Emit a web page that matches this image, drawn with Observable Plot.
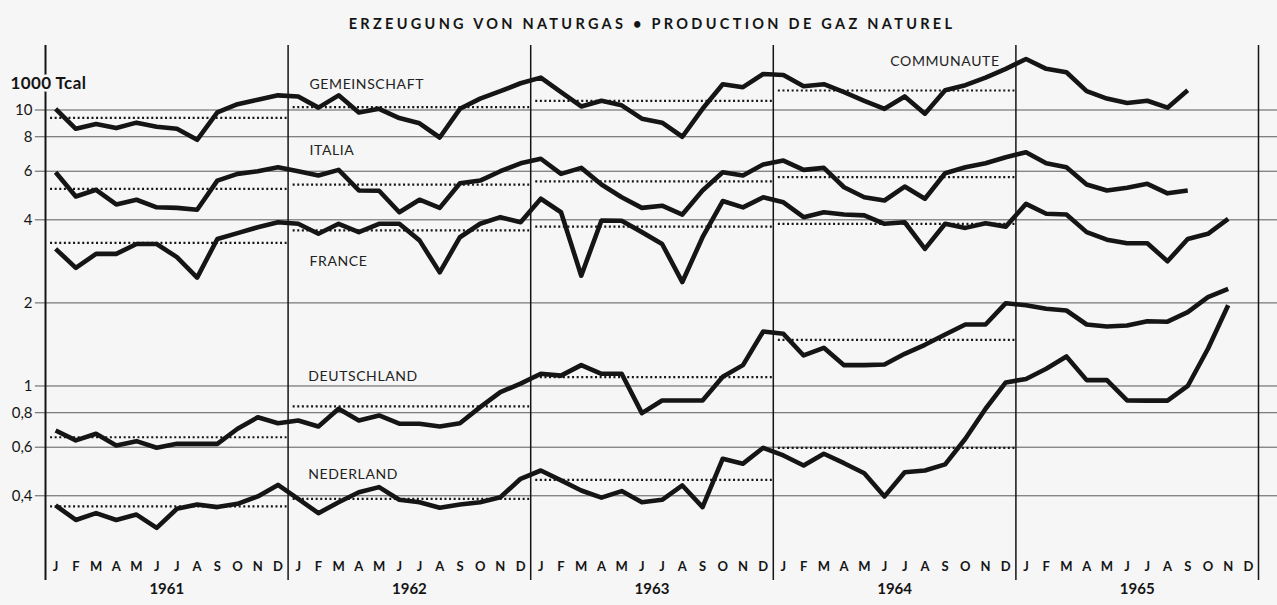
<!DOCTYPE html>
<html><head><meta charset="utf-8">
<script src="https://cdn.jsdelivr.net/npm/d3@7"></script>
<script src="https://cdn.jsdelivr.net/npm/@observablehq/plot@0.6"></script>
<style>
html,body{margin:0;padding:0;background:#f6f6f6;}
#chart{width:1277px;height:605px;}
</style></head><body><div id="chart"></div>
<script>
const title = "ERZEUGUNG VON NATURGAS • PRODUCTION DE GAZ NATUREL";
const unitLabel = "1000 Tcal";
const months = ["J","F","M","A","M","J","J","A","S","O","N","D"];
const years = [1961, 1962, 1963, 1964, 1965];
const yTicks = [0.4, 0.6, 0.8, 1, 2, 4, 6, 8, 10];

// monthly production, 1000 Tcal, from Jan 1961
const gemeinschaft = [
  10.1, 8.55, 8.9, 8.6, 9.0, 8.7, 8.55, 7.8, 9.8, 10.5, 10.9, 11.3,
  11.2, 10.2, 11.3, 9.8, 10.1, 9.35, 8.95, 7.95, 10.1, 11.0, 11.7, 12.5,
  13.1, 11.6, 10.3, 10.8, 10.4, 9.3, 9.0, 8.0, 10.1, 12.4, 12.1, 13.5,
  13.4, 12.2, 12.4, 11.6, 10.8, 10.1, 11.2, 9.7, 11.8, 12.3, 13.1, 14.1,
  15.3, 14.1, 13.7, 11.7, 11.0, 10.6, 10.8, 10.2, 11.8
];
const italia = [
  5.95, 4.86, 5.14, 4.55, 4.73, 4.44, 4.42, 4.35, 5.55, 5.87, 6.0, 6.2,
  6.0, 5.79, 6.07, 5.11, 5.1, 4.26, 4.73, 4.42, 5.43, 5.55, 6.0, 6.41,
  6.66, 5.87, 6.17, 5.37, 4.83, 4.42, 4.5, 4.18, 5.11, 5.95, 5.79, 6.35,
  6.56, 6.07, 6.17, 5.25, 4.83, 4.7, 5.28, 4.77, 5.9, 6.2, 6.41, 6.74,
  7.03, 6.41, 6.2, 5.37, 5.11, 5.23, 5.4, 4.99, 5.11
];
const france = [
  3.14, 2.68, 3.01, 3.01, 3.27, 3.27, 2.93, 2.47, 3.41, 3.58, 3.76, 3.92,
  3.87, 3.56, 3.87, 3.61, 3.87, 3.87, 3.37, 2.58, 3.46, 3.87, 4.09, 3.92,
  4.77, 4.26, 2.51, 3.98, 3.97, 3.61, 3.27, 2.38, 3.46, 4.68, 4.44, 4.83,
  4.63, 4.09, 4.26, 4.18, 4.15, 3.87, 3.92, 3.14, 3.87, 3.74, 3.89, 3.78,
  4.57, 4.21, 4.18, 3.61, 3.39, 3.29, 3.29, 2.83, 3.41, 3.56, 4.03
];
const deutschland = [
  0.69, 0.635, 0.671, 0.609, 0.631, 0.597, 0.617, 0.617, 0.617, 0.70, 0.77, 0.733,
  0.75, 0.713, 0.827, 0.75, 0.782, 0.73, 0.73, 0.713, 0.733, 0.838, 0.95, 1.02,
  1.107, 1.09, 1.19, 1.107, 1.107, 0.797, 0.886, 0.886, 0.886, 1.08, 1.19, 1.576,
  1.545, 1.29, 1.375, 1.19, 1.19, 1.197, 1.308, 1.41, 1.537, 1.67, 1.67, 1.995,
  1.96, 1.905, 1.877, 1.67, 1.643, 1.656, 1.717, 1.71, 1.851, 2.1, 2.25
];
const nederland = [
  0.369, 0.327, 0.346, 0.327, 0.342, 0.306, 0.359, 0.372, 0.364, 0.374, 0.398, 0.438,
  0.39, 0.346, 0.379, 0.412, 0.43, 0.387, 0.379, 0.362, 0.372, 0.379, 0.395, 0.461,
  0.494, 0.455, 0.418, 0.394, 0.416, 0.379, 0.387, 0.436, 0.364, 0.545, 0.523, 0.597,
  0.56, 0.515, 0.568, 0.525, 0.483, 0.398, 0.487, 0.494, 0.52, 0.644, 0.827, 1.03,
  1.06, 1.154, 1.279, 1.05, 1.05, 0.886, 0.885, 0.885, 1.0, 1.364, 1.96
];

// yearly reference levels (dotted), 1961-1964
const avgGemeinschaft = [9.37, 10.24, 10.8, 11.77];
const avgItalia = [5.18, 5.37, 5.51, 5.71];
const avgFrance = [3.30, 3.66, 3.78, 3.87];
const avgDeutschland = [0.652, 0.843, 1.076, 1.47];
const avgNederland = [0.366, 0.39, 0.457, 0.597];

const series = [
  {key: "gemeinschaft", values: gemeinschaft, avg: avgGemeinschaft},
  {key: "italia", values: italia, avg: avgItalia},
  {key: "france", values: france, avg: avgFrance},
  {key: "deutschland", values: deutschland, avg: avgDeutschland},
  {key: "nederland", values: nederland, avg: avgNederland}
];

// series name annotations (month index, value at label centre)
const seriesLabels = [
  {text: "GEMEINSCHAFT", t: 13.06, v: 12.37},
  {text: "ITALIA", t: 13.06, v: 7.16},
  {text: "FRANCE", t: 13.06, v: 2.826},
  {text: "DEUTSCHLAND", t: 13.0, v: 1.082},
  {text: "NEDERLAND", t: 13.0, v: 0.478},
  {text: "COMMUNAUTE", t: 41.79, v: 14.99}
];

const rows = series.flatMap(s => s.values.map((v, i) => ({series: s.key, t: i + 0.5, v})));
const avgRows = series.flatMap(s => s.avg.map((v, k) => ({series: s.key, x1: k * 12 + 0.25, x2: k * 12 + 11.95, v})));
const monthRows = years.flatMap((y, k) => months.map((m, j) => ({t: k * 12 + j + 0.5, m})));
const yearRows = years.map((y, k) => ({t: k * 12 + 6, y: String(y)}));
const separators = years.map((y, k) => k * 12).concat([years.length * 12]);

const ink = "#151515";
const chart = Plot.plot({
  width: 1277, height: 605,
  marginTop: 45, marginBottom: 25, marginLeft: 45, marginRight: 19,
  style: {background: "#f6f6f6", fontFamily: "Lato, 'Open Sans', sans-serif", color: ink},
  x: {domain: [0, 60], axis: null},
  y: {type: "log", domain: [0.1973, 17.13], axis: null},
  marks: [
    Plot.ruleY(yTicks, {y: d => d, x1: -0.5, x2: 60.95, stroke: "#5a5a5a", strokeWidth: 1}),
    Plot.axisY(yTicks, {anchor: "left", tickSize: 0, tickPadding: 13, fontSize: 15, label: null,
      tickFormat: d => String(d).replace(".", ",")}),
    Plot.ruleX(separators, {x: d => d, stroke: ink, strokeWidth: d => d === 0 ? 2 : 1.5}),
    Plot.ruleY(avgRows, {y: "v", x1: "x1", x2: "x2", stroke: ink, strokeWidth: 2.2, strokeDasharray: "2,2.6"}),
    Plot.line(rows, {x: "t", y: "v", z: "series", stroke: ink, strokeWidth: 4.6, strokeLinejoin: "round", strokeLinecap: "butt"}),
    Plot.text(seriesLabels, {x: "t", y: "v", text: "text", textAnchor: "start", fontSize: 14, fill: "#222"}),
    Plot.text(monthRows, {x: "t", text: "m", frameAnchor: "bottom", dy: -10, fontSize: 13, fontWeight: 700, fill: ink}),
    Plot.text(yearRows, {x: "t", text: "y", frameAnchor: "bottom", dy: 13, fontSize: 15, fontWeight: 700, fill: ink}),
    Plot.text([unitLabel], {frameAnchor: "top-left", dx: -35, dy: 31, textAnchor: "start", fontSize: 17, fontWeight: 700,
      fill: ink, stroke: "#f6f6f6", strokeWidth: 5}),
    Plot.text([title], {frameAnchor: "top", dy: -27, fontSize: 14.5, fontWeight: 700, fill: ink})
  ]
});
d3.select(chart).selectAll("text").each(function() {
  const s = this.textContent;
  if (s === title) this.style.letterSpacing = "3.3px";
  else if (s === unitLabel) this.style.letterSpacing = "0.4px";
  else if (seriesLabels.some(l => l.text === s)) this.style.letterSpacing = "0.6px";
});
document.getElementById("chart").appendChild(chart);
</script></body></html>
